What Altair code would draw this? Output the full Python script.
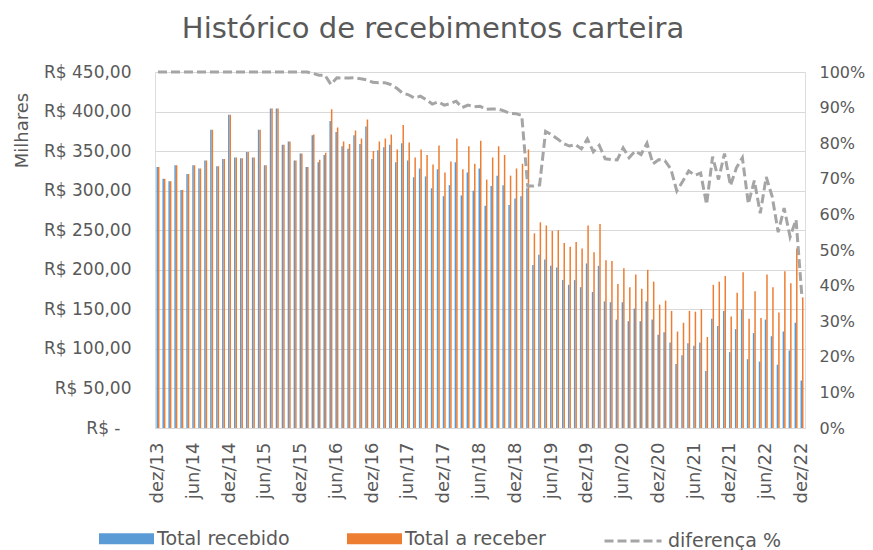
import altair as alt
import pandas as pd

# ---------------- data ----------------
meses_abrev = ["jan", "fev", "mar", "abr", "mai", "jun", "jul", "ago", "set", "out", "nov", "dez"]
months = ["dez/13"] + [f"{m}/{y:02d}" for y in range(14, 23) for m in meses_abrev]
tick_labels = months[::6]

series = ["Total recebido", "Total a receber"]

total_recebido = [
    330, 315, 312, 332, 301, 321, 332, 328, 338, 377, 331, 340, 396, 342, 341, 349, 342, 377, 332, 404,
    404, 358, 362, 338, 347, 330, 370, 336, 345, 388, 374, 356, 353, 370, 359, 381, 340, 351, 355, 358,
    336, 360, 338, 317, 328, 318, 303, 327, 293, 307, 336, 294, 323, 300, 328, 281, 306, 319, 307, 282,
    290, 293, 303, 206, 219, 213, 205, 203, 187, 181, 187, 178, 208, 172, 205, 160, 159, 137, 159, 135,
    151, 135, 160, 137, 118, 121, 108, 81, 92, 107, 104, 108, 72, 138, 129, 148, 96, 125, 150, 87,
    120, 84, 137, 116, 80, 122, 98, 133, 60,
]

total_a_receber = [
    330, 315, 312, 332, 301, 321, 332, 328, 338, 377, 331, 340, 396, 342, 341, 349, 342, 377, 332, 404,
    404, 358, 362, 338, 347, 330, 371, 339, 348, 403, 380, 362, 359, 376, 366, 390, 350, 362, 366, 371,
    352, 383, 361, 342, 352, 345, 333, 357, 323, 337, 366, 327, 356, 334, 363, 314, 342, 356, 345, 319,
    328, 334, 352, 246, 260, 256, 249, 250, 234, 229, 235, 227, 256, 222, 258, 212, 211, 182, 202, 178,
    194, 176, 200, 185, 156, 161, 148, 122, 133, 148, 147, 150, 115, 181, 185, 192, 141, 171, 197, 138,
    173, 139, 194, 178, 146, 198, 183, 227, 165,
]

diferenca_pct = [
    100, 100, 100, 100, 100, 100, 100, 100, 100, 100, 100, 100, 100, 100, 100, 100, 100, 100, 100, 100,
    100, 100, 100, 100, 100, 100, 99.6, 99.1, 99.1, 96.5, 98.4, 98.3, 98.3, 98.4, 98.1, 97.8, 97.1, 97.0, 97.0, 96.5,
    95.5, 94.1, 93.6, 92.7, 93.2, 92.2, 91.0, 91.6, 90.7, 91.1, 91.8, 90.0, 90.7, 90.2, 90.4, 89.5, 89.6, 89.6, 89.1, 88.4,
    88.3, 87.8, 68.0, 68.0, 68.3, 83.3, 82.4, 81.2, 79.9, 79.2, 79.6, 78.4, 81.2, 77.6, 79.4, 75.6, 75.4, 75.3, 78.7, 75.9,
    77.8, 76.8, 80.0, 74.2, 75.4, 75.1, 72.8, 66.6, 69.3, 72.2, 71.0, 71.6, 62.8, 76.2, 69.8, 77.1, 68.1, 73.1, 75.9, 63.0,
    69.5, 60.3, 70.5, 65.0, 55.0, 61.8, 53.7, 58.5, 36.5,
]

# ---------------- tables ----------------
df_bars = pd.concat([
    pd.DataFrame({"mes": months, "serie": series[0], "valor": total_recebido}),
    pd.DataFrame({"mes": months, "serie": series[1], "valor": total_a_receber}),
], ignore_index=True)
df_line = pd.DataFrame({"mes": months, "pct": diferenca_pct, "serie": "diferença %"})

TXT = "#595959"
FONT = "DejaVu Sans"

x_enc = alt.X(
    "mes:N", sort=months,
    scale=alt.Scale(domain=months, paddingInner=0.5, paddingOuter=0.25),
    axis=alt.Axis(values=tick_labels, labelAngle=270, labelAlign="right", labelBaseline="middle",
                  ticks=False, domainColor="#D9D9D9", domainWidth=1, labelPadding=14,
                  labelFontSize=18, labelColor=TXT, labelFont=FONT, title=None, grid=False,
                  labelOverlap=False),
)

bars = alt.Chart(df_bars).mark_bar().encode(
    x=x_enc,
    xOffset=alt.XOffset("serie:N", sort=series,
                        scale=alt.Scale(domain=series, paddingInner=0, paddingOuter=0)),
    y=alt.Y("valor:Q", scale=alt.Scale(domain=[0, 450], nice=False),
            axis=alt.Axis(values=list(range(0, 451, 50)),
                          labelExpr="datum.value == 0 ? 'R$ -' : 'R$ ' + replace(format(datum.value, '.2f'), '.', ',')",
                          domain=False, ticks=False, grid=True, gridColor="#D9D9D9", gridWidth=1,
                          labelPadding={"condition": {"test": "datum.value == 0", "value": 35}, "value": 24},
                          labelFontSize=17, labelColor=TXT, labelFont=FONT,
                          title="Milhares", titleFontSize=18, titleColor=TXT, titleFont=FONT,
                          titleFontWeight="normal", titleAngle=270, titleX=-133, titleY=58,
                          titleAlign="center", titleBaseline="middle")),
    color=alt.Color("serie:N", sort=series,
                    scale=alt.Scale(domain=series, range=["#5B9BD5", "#ED7D31"]),
                    legend=alt.Legend(orient="none", legendX=-56, legendY=439, direction="horizontal",
                                      title=None, symbolType="M-1,-0.2H1V0.2H-1Z", symbolSize=3025,
                                      symbolStrokeWidth=0, symbolOpacity=1, columnPadding=57,
                                      labelFontSize=19, labelColor=TXT, labelFont=FONT, labelOffset=3,
                                      labelLimit=300)),
)

line = alt.Chart(df_line).mark_line(color="#A5A5A5", strokeWidth=3, strokeCap="butt").encode(
    x=x_enc,
    y=alt.Y("pct:Q", scale=alt.Scale(domain=[0, 100], nice=False),
            axis=alt.Axis(orient="right", values=list(range(0, 101, 10)),
                          labelExpr="datum.value + '%'", domain=False, ticks=False, grid=False,
                          labelPadding=14, labelFontSize=16, labelColor=TXT, labelFont=FONT,
                          title=None)),
    strokeDash=alt.StrokeDash("serie:N",
                              scale=alt.Scale(domain=["diferença %"], range=[[9, 4]]),
                              legend=alt.Legend(orient="none", legendX=448, legendY=439, title=None,
                                                symbolType="stroke", symbolSize=3249,
                                                symbolStrokeColor="#A5A5A5", symbolStrokeWidth=3,
                                                labelFontSize=19, labelColor=TXT, labelFont=FONT,
                                                labelOffset=5, labelLimit=300)),
)

chart = alt.layer(bars, line).resolve_scale(
    y="independent", color="independent", strokeDash="independent"
).properties(
    width=650, height=356,
    padding={"left": 147, "top": 64, "right": 60, "bottom": 122},
    autosize=alt.AutoSizeParams(type="none"),
    title=alt.TitleParams("Histórico de recebimentos carteira", fontSize=29, font=FONT,
                          fontWeight="normal", color=TXT, anchor="middle", dx=-47, offset=19),
).configure_view(stroke=None).configure(background="white")

chart.save("out.html", embed_options={"renderer": "svg", "actions": False})
